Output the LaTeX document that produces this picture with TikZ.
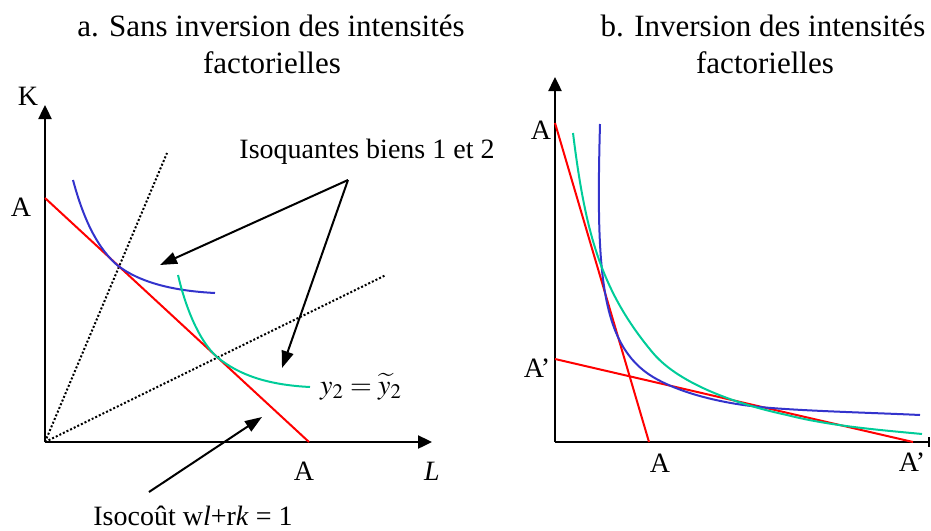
\documentclass[tikz,border=0pt]{standalone}
\usepackage{mathptmx}
\usepackage{fontspec}
\setmainfont{Liberation Serif}
\usetikzlibrary{arrows.meta, positioning}
\definecolor{isored}{HTML}{FF0000}
\definecolor{isoblue}{HTML}{3333CC}
\definecolor{isoteal}{HTML}{00CC99}
\tikzset{
  axis/.style={line width=1.2pt, -{Triangle[length=7pt, width=6.5pt]}},
  budget/.style={line width=1pt, isored},
  isoquantA/.style={line width=1pt, isoblue},
  isoquantB/.style={line width=1pt, isoteal},
  ray/.style={line width=1pt, dash pattern=on 1pt off 1pt},
  pointer/.style={line width=1pt, -{Triangle[length=8.5pt, width=6pt]}},
  lbl/.style={inner sep=0pt, anchor=base, font=\fontsize{14}{16}\selectfont},
  ttl/.style={inner sep=0pt, anchor=base, font=\fontsize{15.5}{18}\selectfont},
}

\begin{document}
\begin{tikzpicture}[x=0.5pt, y=-0.5pt]
\useasboundingbox (0,0) rectangle (931,530);
\node[ttl] (titleA1) at (271,36) {a. Sans inversion des intensités};
\node[ttl] (titleA2) at (272,73) {factorielles};
\node[ttl] (titleB1) at (763,36) {b. Inversion des intensités};
\node[ttl] (titleB2) at (765,73) {factorielles};
\coordinate (oA) at (45,442);
\coordinate (kA) at (45,105);
\coordinate (lA) at (432,442);
\coordinate (aTop) at (45,198);
\coordinate (aBot) at (309,442);
\coordinate (rayUp) at (167,153);
\coordinate (rayLow) at (386,275);
\draw[axis] (oA) -- (kA);
\draw[axis] (oA) -- (lA);
\draw[ray] (oA) -- (rayUp);
\draw[ray] (oA) -- (rayLow);
\draw[budget] (aTop) -- (aBot);
\draw[isoquantA] (73,180) .. controls (85,225) and (100,250) .. (117,265)
  .. controls (140,283) and (175,291) .. (215,293);
\draw[isoquantB] (178,275) .. controls (185,305) and (198,340) .. (217,357)
  .. controls (240,376) and (270,385) .. (310,387);
\node[lbl] (kLbl) at (28,105) {K};
\node[lbl] (lLbl) at (432,480) {\textit{L}};
\node[lbl] (aLeft) at (21,216) {A};
\node[lbl] (aBelow) at (304,480) {A};
\node[lbl] (isoLbl) at (367,158) {Isoquantes biens 1 et 2};
\node[lbl] (yLbl) at (361,394) {$y_2 = \widetilde{y}_2$};
\node[lbl] (costLbl) at (193,525) {Isocoût w\textit{l}+r\textit{k} = 1};
\coordinate (isoFrom) at (348,180);
\coordinate (tipBlue) at (160,265);
\coordinate (tipTeal) at (282,368);
\coordinate (costFrom) at (149,492);
\coordinate (tipCost) at (262,417);
\foreach \t in {tipBlue,tipTeal}
  \draw[pointer] (isoFrom) -- (\t);
\draw[pointer] (costFrom) -- (tipCost);
\coordinate (oB) at (555,442);
\coordinate (kB) at (555,77);
\coordinate (lB) at (930,442);
\coordinate (aTopB) at (555,123);
\coordinate (aBotB) at (649,442);
\coordinate (pTopB) at (555,359);
\coordinate (pBotB) at (913,442);
\draw[axis] (oB) -- (kB);
\draw[line width=1.2pt, -{Bar[width=5pt]}] (oB) -- (lB);
\draw[budget] (aTopB) -- (aBotB);
\draw[budget] (pTopB) -- (pBotB);
\draw[isoquantA] (600,124) .. controls (596,270) and (600,345) .. (653,377)
  .. controls (680,393) and (720,403) .. (760,407)
  .. controls (800,411) and (880,413) .. (920,415);
\draw[isoquantB] (573,133) .. controls (585,230) and (600,290) .. (653,353)
  .. controls (680,385) and (740,405) .. (787,415)
  .. controls (830,426) and (880,430) .. (922,434);
\node[lbl] (aLeftB) at (541,139) {A};
\node[lbl] (pLeftB) at (537,377) {A’};
\node[lbl] (aBelowB) at (660,472) {A};
\node[lbl] (pBelowB) at (912,471) {A’};
\end{tikzpicture}
\end{document}
